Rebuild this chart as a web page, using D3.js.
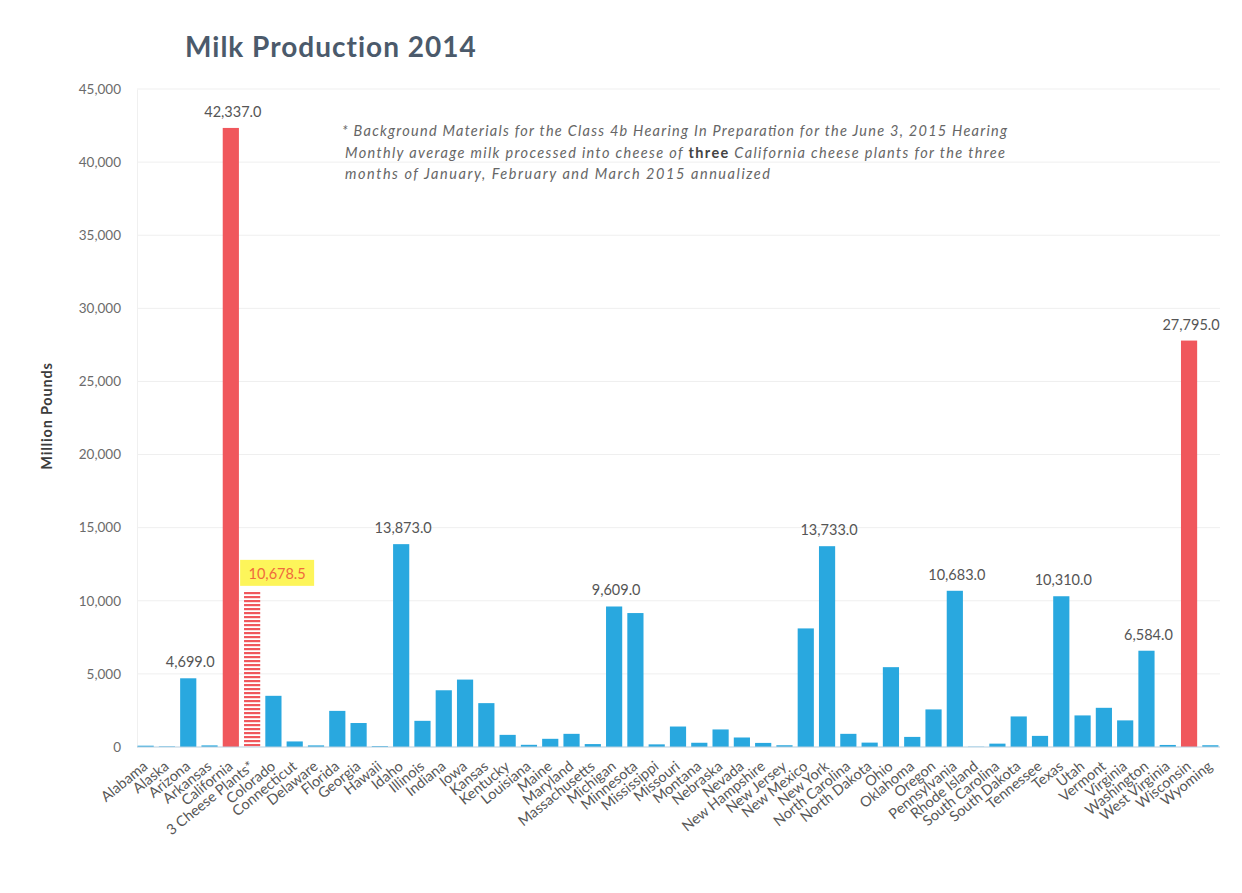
<!DOCTYPE html>
<html>
<head>
<meta charset="utf-8">
<script src="https://cdn.jsdelivr.net/npm/d3@7"></script>
<style>
  html, body { margin: 0; padding: 0; background: #fff; }
  svg { display: block; }
</style>
</head>
<body>
<svg id="chart" width="1242" height="893"></svg>
<script>
// Milk production by state, 2014 (million pounds)
const states = [
  "Alabama", "Alaska", "Arizona", "Arkansas", "California", "3 Cheese Plants*",
  "Colorado", "Connecticut", "Delaware", "Florida", "Georgia", "Hawaii", "Idaho",
  "Illinois", "Indiana", "Iowa", "Kansas", "Kentucky", "Louisiana", "Maine",
  "Maryland", "Massachusetts", "Michigan", "Minnesota", "Mississippi", "Missouri",
  "Montana", "Nebraska", "Nevada", "New Hampshire", "New Jersey", "New Mexico",
  "New York", "North Carolina", "North Dakota", "Ohio", "Oklahoma", "Oregon",
  "Pennsylvania", "Rhode Island", "South Carolina", "South Dakota", "Tennessee",
  "Texas", "Utah", "Vermont", "Virginia", "Washington", "West Virginia",
  "Wisconsin", "Wyoming"
];

const production = [
  90, 40, 4699, 110, 42337, 10678.5,
  3500, 380, 110, 2470, 1640, 60, 13873,
  1790, 3880, 4610, 3000, 830, 150, 560,
  900, 200, 9609, 9160, 180, 1400,
  290, 1200, 650, 280, 120, 8110,
  13733, 900, 300, 5460, 690, 2570,
  10683, 20, 230, 2090, 760,
  10310, 2160, 2680, 1820, 6584, 140,
  27795, 120
];

// Bars drawn in red, and the hatched bar for the cheese plants
const redStates = ["California", "Wisconsin"];
const hatchedStates = ["3 Cheese Plants*"];
// Bars carrying a value label
const labeledStates = ["Arizona", "California", "3 Cheese Plants*", "Idaho", "Michigan",
  "New York", "Pennsylvania", "Texas", "Washington", "Wisconsin"];

const yTicks = [0, 5000, 10000, 15000, 20000, 25000, 30000, 35000, 40000, 45000];

const noteLines = [
  ["* Background Materials for the Class 4b Hearing In Preparation for the June 3, 2015 Hearing"],
  ["Monthly average milk processed  into cheese of ", "three", " California cheese plants  for the three"],
  ["months of January, February and March  2015 annualized"]
];
const noteWidths = [665, 660, 425];

const data = states.map((s, i) => ({ state: s, value: production[i] }));

const BLUE = "#29a8df";
const RED = "#f0575c";
const FONT = "Lato, 'Open Sans', sans-serif";

const svg = d3.select("#chart");

const x = d3.scaleBand()
  .domain(states)
  .range([135, 1221])
  .paddingInner(0.24)
  .paddingOuter(0.12);

const y = d3.scaleLinear().domain([0, 45000]).range([747, 89]);

// Hatch pattern: horizontal red stripes
const defs = svg.append("defs");
const pat = defs.append("pattern")
  .attr("id", "stripes")
  .attr("patternUnits", "userSpaceOnUse")
  .attr("width", 8).attr("height", 4);
pat.append("rect").attr("width", 8).attr("height", 4).attr("fill", "#fff");
pat.append("rect").attr("y", 0).attr("width", 8).attr("height", 2.2).attr("fill", RED);

// Title
svg.append("text")
  .attr("x", 185).attr("y", 57)
  .attr("font-family", FONT)
  .attr("font-weight", 700)
  .attr("font-size", 28)
  .attr("letter-spacing", 1)
  .attr("fill", "#4b5a6b")
  .text("Milk Production 2014");

// Gridlines
svg.append("g")
  .selectAll("line")
  .data(yTicks.filter(d => d > 0))
  .join("line")
  .attr("x1", 137).attr("x2", 1220)
  .attr("y1", d => y(d)).attr("y2", d => y(d))
  .attr("stroke", "#efefef")
  .attr("stroke-width", 1);

// Y axis
const yAxis = svg.append("g")
  .attr("transform", "translate(137,0)")
  .call(d3.axisLeft(y).tickValues(yTicks).tickFormat(d3.format(",")).tickSize(0).tickPadding(16));
yAxis.select(".domain").attr("stroke", "#f0f0f0");
yAxis.selectAll("text")
  .attr("font-family", FONT)
  .attr("font-size", 13.5)
  .attr("fill", "#6b6b6b");

// Y axis title
svg.append("text")
  .attr("transform", "translate(52,416) rotate(-90)")
  .attr("text-anchor", "middle")
  .attr("font-family", FONT)
  .attr("font-weight", 700)
  .attr("font-size", 14.5)
  .attr("letter-spacing", 0.8)
  .attr("fill", "#3c3c3c")
  .text("Million Pounds");

// Bars
svg.append("g")
  .selectAll("rect")
  .data(data)
  .join("rect")
  .attr("x", d => x(d.state))
  .attr("width", x.bandwidth())
  .attr("y", d => y(d.value))
  .attr("height", d => y(0) - y(d.value))
  .attr("fill", d => hatchedStates.includes(d.state) ? "url(#stripes)"
    : redStates.includes(d.state) ? RED : BLUE);

// Baseline
svg.append("line")
  .attr("x1", 137).attr("x2", 1220)
  .attr("y1", y(0)).attr("y2", y(0))
  .attr("stroke", "#b9cfe0")
  .attr("stroke-width", 1.2);

// X axis labels
svg.append("g")
  .selectAll("text")
  .data(states)
  .join("text")
  .attr("transform", d => `translate(${x(d) + x.bandwidth() / 2 + 3},${y(0) + 21}) rotate(-39)`)
  .attr("text-anchor", "end")
  .attr("font-family", FONT)
  .attr("font-size", 14.5)
  .attr("fill", "#575757")
  .text(d => d);

// Value labels
const fmt = d3.format(",.1f");
const labeled = data.filter(d => labeledStates.includes(d.state));

const highlight = labeled.filter(d => hatchedStates.includes(d.state));
highlight.forEach(d => {
  const cx = x(d.state) + x.bandwidth() / 2 + 25;
  svg.append("rect")
    .attr("x", cx - 37).attr("y", y(d.value) - 31)
    .attr("width", 74).attr("height", 26)
    .attr("fill", "#fdf55a");
  svg.append("text")
    .attr("x", cx).attr("y", y(d.value) - 12)
    .attr("text-anchor", "middle")
    .attr("font-family", FONT)
    .attr("font-size", 14.5)
    .attr("fill", "#f06a3c")
    .text(fmt(d.value));
});

svg.append("g")
  .selectAll("text")
  .data(labeled.filter(d => !hatchedStates.includes(d.state)))
  .join("text")
  .attr("x", d => x(d.state) + x.bandwidth() / 2 + 2)
  .attr("y", d => y(d.value) - 11)
  .attr("text-anchor", "middle")
  .attr("font-family", FONT)
  .attr("font-size", 14.5)
  .attr("fill", "#555")
  .text(d => fmt(d.value));

// Footnote about the cheese plants
noteLines.forEach((parts, i) => {
  const line = svg.append("text")
    .attr("x", i === 0 ? 342 : 345)
    .attr("y", 136 + i * 21.5)
    .attr("textLength", noteWidths[i])
    .attr("lengthAdjust", "spacing")
    .attr("font-family", FONT)
    .attr("font-style", "italic")
    .attr("font-size", 14.5)
    .attr("fill", "#666");
  parts.forEach(p => {
    const t = line.append("tspan").text(p);
    if (p === "three") t.attr("font-weight", 700).attr("font-style", "normal").attr("fill", "#444");
  });
});
</script>
</body>
</html>
